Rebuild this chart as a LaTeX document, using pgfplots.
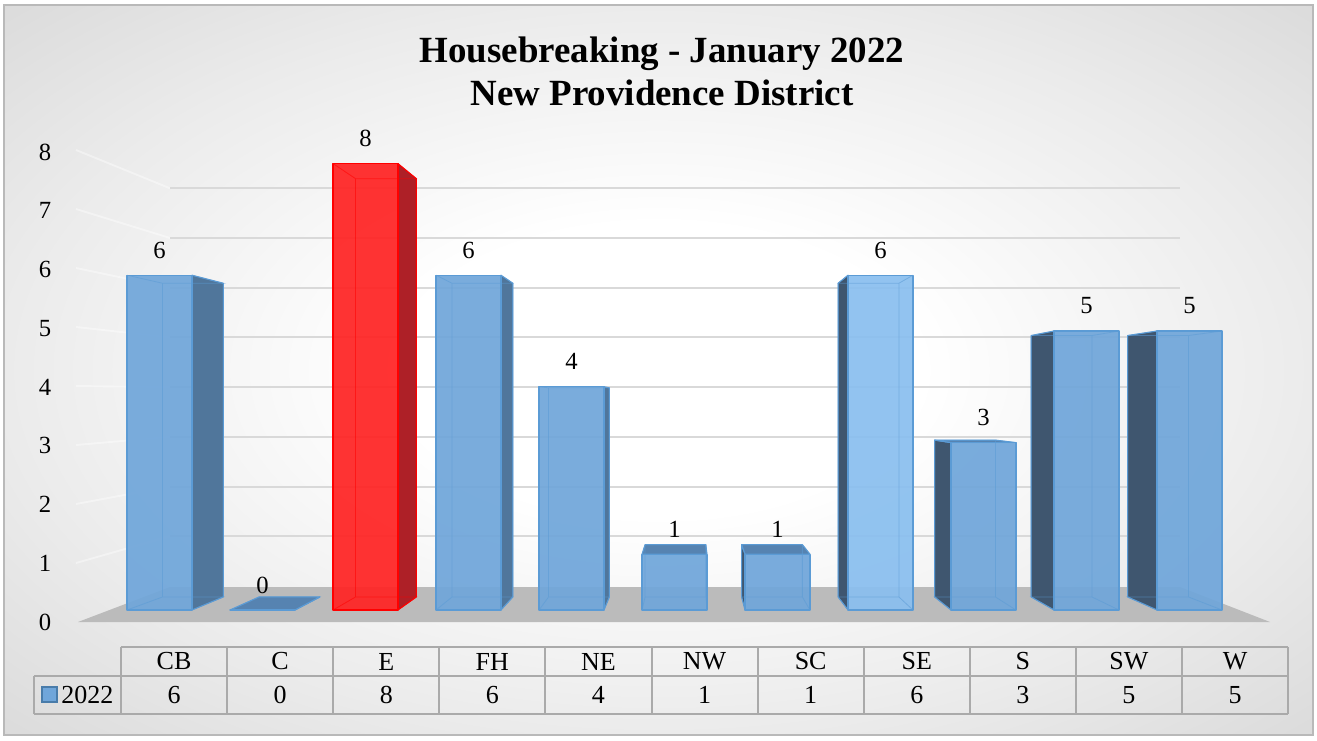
\documentclass[border=0pt]{standalone}
\usepackage{fontspec}
\setmainfont{Liberation Serif}
\usepackage{pgfplots}
\usepackage{pgfplotstable}
\pgfplotsset{compat=1.18}

\definecolor{bface}{HTML}{70A6DA}
\definecolor{lface}{HTML}{8ABFEF}
\definecolor{bedge}{HTML}{5B9BD5}
\definecolor{bsideR}{HTML}{50769B}
\definecolor{bsideL}{HTML}{3F566F}
\definecolor{btop}{HTML}{5683B1}
\definecolor{rface}{HTML}{FF2424}
\definecolor{redge}{HTML}{FF0000}
\definecolor{rside}{HTML}{AE2027}
\definecolor{floorc}{HTML}{BBBBBB}
\definecolor{gridc}{HTML}{D9D9D9}
\definecolor{tabc}{HTML}{AAAAAA}
\definecolor{bgmid}{HTML}{EBEBEB}
\definecolor{bgedge}{HTML}{D4D4D4}
\definecolor{bgcorner}{HTML}{C3C3C3}

\pgfdeclareradialshading{bgshade}{\pgfpoint{0bp}{0bp}}{color(0bp)=(white); color(10bp)=(white); color(25bp)=(bgmid); color(40bp)=(bgedge); color(71bp)=(bgcorner)}

\pgfplotstableread{
idx name val kind
0 CB 6 b
1 C 0 b
2 E 8 r
3 FH 6 b
4 NE 4 b
5 NW 1 b
6 SC 1 b
7 SE 6 l
8 S 3 b
9 SW 5 b
10 W 5 b
}\data

% vanishing point (axis units) and depth scale
\def\VX{5.1505}
\def\VY{3.7097}
\def\DS{0.937}

\newcommand\barbox[2]{%
 \pgfmathsetmacro\xl{#1-0.315}%
 \pgfmathsetmacro\xr{#1+0.315}%
 \pgfmathsetmacro\bxl{\VX+\DS*(\xl-\VX)}%
 \pgfmathsetmacro\bxr{\VX+\DS*(\xr-\VX)}%
 \pgfmathsetmacro\byz{\VY*(1-\DS)}%
 \pgfmathsetmacro\byv{\VY+\DS*(#2-\VY)}%
 \ifdim\xr pt<\VX pt
   \edef\tmp{\noexpand\addplot[forget plot, mark=none, fill=\scr, draw=\ec, line width=0.8pt, line join=round] coordinates {(\xr,0) (\xr,#2) (\bxr,\byv) (\bxr,\byz)} -- cycle;}\tmp
 \fi
 \ifdim\xl pt>\VX pt
   \edef\tmp{\noexpand\addplot[forget plot, mark=none, fill=\scl, draw=\ec, line width=0.8pt, line join=round] coordinates {(\xl,0) (\xl,#2) (\bxl,\byv) (\bxl,\byz)} -- cycle;}\tmp
 \fi
 \ifdim\byv pt>#2pt
   \edef\tmp{\noexpand\addplot[forget plot, mark=none, fill=\tc, draw=\ec, line width=0.8pt, line join=round] coordinates {(\xl,#2) (\xr,#2) (\bxr,\byv) (\bxl,\byv)} -- cycle;}\tmp
 \fi
 \edef\tmp{\noexpand\addplot[forget plot, mark=none, fill=\fc, fill opacity=0.93, draw=\ec, line width=0.9pt, line join=round] coordinates {(\xl,0) (\xr,0) (\xr,#2) (\xl,#2)} -- cycle;}\tmp
 \edef\tmp{\noexpand\addplot[forget plot, mark=none, draw=\ec, draw opacity=0.55, line width=0.6pt, unbounded coords=jump] coordinates {(\xl,0) (\bxl,\byz) (\bxr,\byz) (\xr,0) (\xr,nan) (\xl,#2) (\bxl,\byv) (\bxr,\byv) (\xr,#2) (\xr,nan) (\bxl,\byz) (\bxl,\byv) (\bxl,nan) (\bxr,\byz) (\bxr,\byv)};}\tmp
}

\def\kindr{r}
\def\kindl{l}

\begin{document}
\begin{tikzpicture}
% ---------- background, walls, floor (pixel coordinates) ----------
\begin{scope}[x=0.75pt, y=-0.75pt, yshift=555pt]
  \path (0,0) rectangle (1317,740);
  \shade[shading=bgshade] (4,5) rectangle (1313,735);
  \draw[gray!55, line width=0.8pt] (4,5) rectangle (1313,735);
  % left wall lines
  \foreach \k in {1,...,8}{
    \draw[white, opacity=0.4, line width=1.4pt] (76,{622-59*\k}) -- (170,{585.9-49.7*\k});
  }
  % back wall grid lines
  \foreach \k in {1,...,8}{
    \draw[gridc, line width=1.5pt] (170,{585.9-49.7*\k}) -- (1180,{585.9-49.7*\k});
  }
  % floor
  \fill[floorc] (78,622) -- (1270,622) -- (1180,587) -- (170,587) -- cycle;
\end{scope}

\begin{axis}[
  name=ax,
  scale only axis,
  width=987.75pt, height=555pt,
  xmin=-1.548544, xmax=11.237864,
  ymin=-2.329749, ymax=10.931900,
  axis line style={draw=none},
  tick style={draw=none},
  xtick=\empty,
  ytick={-0.215,0.838,1.891,2.944,3.997,5.049,6.102,7.155,8.208},
  yticklabels={0,1,2,3,4,5,6,7,8},
  yticklabel style={anchor=center, xshift=33.75pt, font=\fontsize{18.5}{20}\selectfont},
  /pgf/number format/assume math mode=true,
  clip=false,
]
\pgfplotsinvokeforeach{0,...,10}{%
  \pgfplotstablegetelem{#1}{val}\of\data
  \edef\bv{\pgfplotsretval}%
  \pgfplotstablegetelem{#1}{kind}\of\data
  \edef\bk{\pgfplotsretval}%
  \def\fc{bface}\def\scr{bsideR}\def\scl{bsideL}\def\tc{btop}\def\ec{bedge}%
  \ifx\bk\kindr \def\fc{rface}\def\scr{rside}\def\scl{rside}\def\tc{rside}\def\ec{redge}\fi
  \ifx\bk\kindl \def\fc{lface}\fi
  \barbox{#1}{\bv}%
}
\addplot[draw=none, mark=none, forget plot,
  nodes near coords,
  every node near coord/.style={anchor=center, yshift=18.75pt, text=black, font=\fontsize{18.5}{20}\selectfont}]
  table[x=idx, y=val] {\data};
\end{axis}

% ---------- title and data table (pixel coordinates) ----------
\begin{scope}[x=0.75pt, y=-0.75pt, yshift=555pt]
  \node[align=center, font=\bfseries\fontsize{27.7}{32.3}\selectfont] at (662,71.5)
    {Housebreaking - January 2022\\New Providence District};
  \draw[tabc, line width=1.5pt] (121,647) -- (1288,647);
  \draw[tabc, line width=1.5pt] (34,676) -- (1288,676);
  \draw[tabc, line width=1.5pt] (34,714) -- (1288,714);
  \draw[tabc, line width=1.5pt] (34,676) -- (34,714);
  \foreach \j in {0,...,11}{
    \draw[tabc, line width=1.5pt] ({121+106.1*\j},647) -- ({121+106.1*\j},714);
  }
  \foreach \j in {0,...,10}{
    \pgfplotstablegetelem{\j}{name}\of\data
    \node[font=\fontsize{19.5}{22}\selectfont] at ({174.05+106.1*\j},661.5) {\pgfplotsretval};
    \pgfplotstablegetelem{\j}{val}\of\data
    \node[font=\fontsize{19.5}{22}\selectfont] at ({174.05+106.1*\j},695) {\pgfplotsretval};
  }
  \filldraw[fill=bface, draw=bedge!80!black, line width=0.8pt] (42,687) rectangle (57,702);
  \node[anchor=west, inner sep=0pt, font=\fontsize{19.5}{22}\selectfont] at (61,695) {2022};
\end{scope}
\end{tikzpicture}
\end{document}
